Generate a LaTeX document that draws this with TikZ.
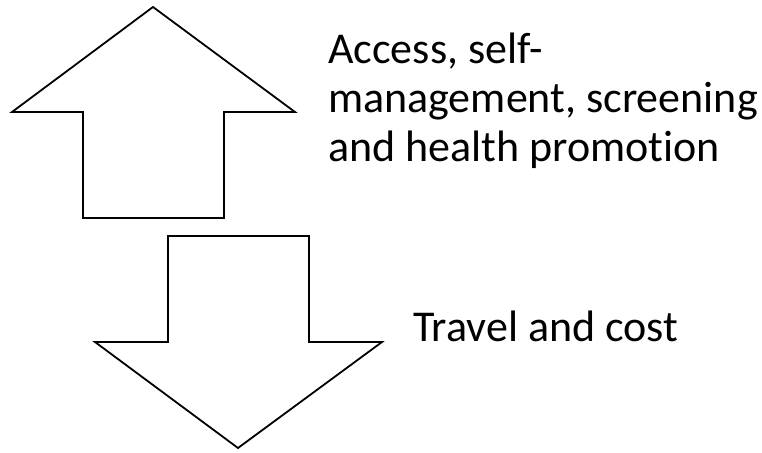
\documentclass[tikz,border=0pt]{standalone}
\usepackage{fontspec}
\setmainfont[Ligatures={NoCommon}]{Carlito}
\usepackage{tikz}
\usetikzlibrary{positioning, calc}

\tikzset{
  bigarrow/.style={draw=black, line width=1.8pt, fill=white, line join=miter},
  caption/.style={anchor=base west, inner sep=0pt, align=left,
    font=\fontsize{44}{49}\selectfont}
}

\begin{document}
\begin{tikzpicture}[x=1pt,y=-1pt]
      \useasboundingbox (0,0) rectangle (762,452);

      % Up arrow
      \draw[bigarrow] (153,7) -- (295,112) -- (224,112) -- (224,218)
        -- (83,218) -- (83,112) -- (12,112) -- cycle;

      % Down arrow
      \draw[bigarrow] (238,448) -- (95,342) -- (168,342) -- (168,236)
        -- (309,236) -- (309,342) -- (382,342) -- cycle;

      % Labels (base anchor sits on the last line)
      \node[caption] (up) at (328,161)
        {Access, self-\\management, screening\\and health promotion};
      \node[caption] (down) at (413,341) {Travel and cost};
    \end{tikzpicture}
\end{document}
